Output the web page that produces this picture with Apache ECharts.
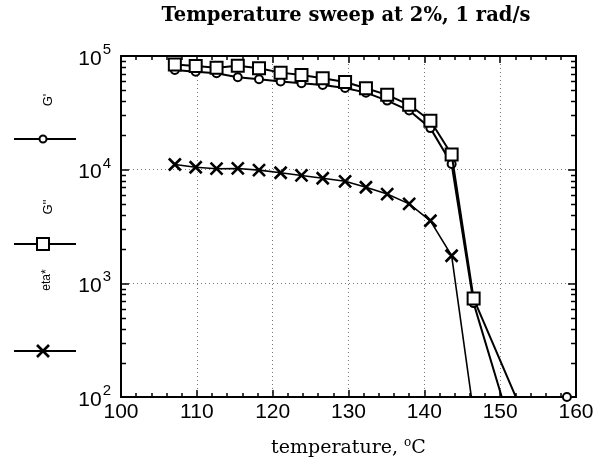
<!DOCTYPE html>
<html><head><meta charset="utf-8">
<script src="https://cdn.jsdelivr.net/npm/echarts@6/dist/echarts.min.js"></script>
<style>html,body{margin:0;padding:0;background:#fff}#c{width:601px;height:464px}</style>
</head><body><div id="c"></div>
<script>
// ---- data ----
const titleText = 'Temperature sweep at 2%, 1 rad/s';
const xTitle = 'temperature, ';
const seriesNames = ["G'", "G''", "eta*"];
const tempsGp  = [107.1,109.85,112.6,115.4,118.2,121.05,123.8,126.6,129.55,132.3,135.1,138.0,140.8,143.6,146.5,152.0,158.8];
const valuesGp = [75400,72800,70400,65000,62500,59600,57700,55700,52400,47600,40500,33100,23200,11200,670,40,100];
const tempsGpp  = [107.1,109.85,112.6,115.4,118.2,121.05,123.8,126.6,129.55,132.3,135.1,138.0,140.8,143.6,146.5,155.0];
const valuesGpp = [84000,81500,79000,82000,78000,71400,68100,63700,59100,52100,45500,37200,26900,13600,735,35];
const tempsEta  = [107.1,109.85,112.6,115.4,118.2,121.05,123.8,126.6,129.55,132.3,135.1,138.0,140.8,143.6,146.5];
const valuesEta = [11100,10500,10200,10250,9900,9400,8900,8400,7900,7000,6100,5000,3550,1750,72];
const xTicks = [100,110,120,130,140,150,160];
const yMinor = [200,300,400,500,600,700,800,900,2000,3000,4000,5000,6000,7000,8000,9000,20000,30000,40000,50000,60000,70000,80000,90000];

const zip = (a,b)=>a.map((v,i)=>[v,b[i]]);
const W = 601, H = 464;
const chart = echarts.init(document.getElementById('c'), null, {renderer:'canvas', width:W, height:H});
const G = {left:121, right:25, top:56, bottom:67};
const axisLineStyle = {color:'#000', width:2};
const xBase = {type:'value', min:100, max:160, interval:10};
const yBase = {type:'log', min:100, max:100000, logBase:10};
const sans = 'Liberation Sans';
const serif = 'DejaVu Serif';

// legend (drawn at the left, labels rotated)
const legend = [
  {type:'text', x:48, y:100, rotation:Math.PI/2, style:{text:seriesNames[0], font:'13px "Liberation Sans"', fill:'#000', align:'center', verticalAlign:'middle'}},
  {type:'line', shape:{x1:14,y1:139,x2:76,y2:139}, style:{stroke:'#000', lineWidth:2}},
  {type:'circle', shape:{cx:43, cy:139, r:3.5}, style:{fill:'#fff', stroke:'#000', lineWidth:2}},
  {type:'text', x:48, y:207, rotation:Math.PI/2, style:{text:seriesNames[1], font:'13px "Liberation Sans"', fill:'#000', align:'center', verticalAlign:'middle'}},
  {type:'line', shape:{x1:14,y1:244,x2:76,y2:244}, style:{stroke:'#000', lineWidth:2}},
  {type:'rect', shape:{x:37, y:238, width:12, height:12}, style:{fill:'#fff', stroke:'#000', lineWidth:2}},
  {type:'text', x:47, y:280, rotation:Math.PI/2, style:{text:seriesNames[2], font:'12px "Liberation Sans"', fill:'#000', align:'center', verticalAlign:'middle'}},
  {type:'line', shape:{x1:14,y1:351,x2:76,y2:351}, style:{stroke:'#000', lineWidth:2}},
  {type:'line', shape:{x1:37,y1:345,x2:49,y2:357}, style:{stroke:'#000', lineWidth:2.6}},
  {type:'line', shape:{x1:49,y1:345,x2:37,y2:357}, style:{stroke:'#000', lineWidth:2.6}}
];
// log-axis minor ticks (2..9 x 10^k) along the left and right frame (axis decoration)
const xL = G.left, xR = W - G.right, yT = G.top, yB = H - G.bottom;
const decades = Math.log10(yBase.max) - Math.log10(yBase.min);
const ticks = [];
yMinor.forEach((v,i)=>{
  const y = Math.round(yB - (Math.log10(v) - Math.log10(yBase.min)) / decades * (yB - yT)) + 0.5;
  ticks.push({type:'line', id:'tl'+i, z:100, shape:{x1:xL, y1:y, x2:xL+5, y2:y}, style:{stroke:'#000', lineWidth:1.5}});
  ticks.push({type:'line', id:'tr'+i, z:100, shape:{x1:xR-5, y1:y, x2:xR, y2:y}, style:{stroke:'#000', lineWidth:1.5}});
});

const option = {
  animation:false,
  backgroundColor:'#fff',
  title:{text:titleText, left:341, textAlign:'center', top:1,
    textStyle:{fontFamily:serif, fontWeight:'bold', fontSize:19.5, color:'#000'}},
  grid:G,
  xAxis:[
    Object.assign({}, xBase, {position:'bottom',
      axisLine:{show:true, lineStyle:axisLineStyle, onZero:false},
      axisTick:{show:true, inside:true, length:7, lineStyle:{color:'#000', width:1.5}},
      minorTick:{show:true, splitNumber:5, length:4, lineStyle:{color:'#000', width:1.5}},
      splitLine:{show:true, lineStyle:{color:'#777', type:[1,3], width:1}},
      axisLabel:{fontFamily:sans, fontSize:21, color:'#000', margin:5,
        formatter:v=>xTicks.includes(v)?String(v):''},
      name:'{a|' + xTitle + '}{s|o}{a|C}', nameLocation:'middle', nameGap:40,
      nameTextStyle:{rich:{a:{fontFamily:serif, fontSize:19, color:'#000'},
        s:{fontFamily:serif, fontSize:12, color:'#000', verticalAlign:'top', padding:[0,0,10,0]}}}
    }),
    Object.assign({}, xBase, {position:'top',
      axisLine:{show:true, lineStyle:axisLineStyle, onZero:false},
      axisTick:{show:true, inside:true, length:7, lineStyle:{color:'#000', width:1.5}},
      minorTick:{show:true, splitNumber:5, length:4, lineStyle:{color:'#000', width:1.5}},
      splitLine:{show:false}, axisLabel:{show:false}})
  ],
  yAxis:[
    Object.assign({}, yBase, {position:'left',
      axisLine:{show:true, lineStyle:axisLineStyle, onZero:false},
      axisTick:{show:true, inside:true, length:8, lineStyle:{color:'#000', width:1.5}},
      splitLine:{show:true, lineStyle:{color:'#777', type:[1,3], width:1}},
      axisLabel:{margin:10, formatter:v=>'{b|10}{s|' + Math.round(Math.log10(v)) + '}',
        rich:{b:{fontFamily:sans, fontSize:21, color:'#000', verticalAlign:'top', padding:[6,0,0,0]},
              s:{fontFamily:sans, fontSize:15, color:'#000', verticalAlign:'top', padding:[0,0,0,1]}}}
    }),
    Object.assign({}, yBase, {position:'right',
      axisLine:{show:true, lineStyle:axisLineStyle, onZero:false},
      axisTick:{show:true, inside:true, length:8, lineStyle:{color:'#000', width:1.5}},
      splitLine:{show:false}, axisLabel:{show:false}})
  ],
  series:[
    {name:seriesNames[0], type:'line', data:zip(tempsGp, valuesGp), clip:true,
      symbol:'emptyCircle', symbolSize:8, showAllSymbol:true,
      lineStyle:{color:'#000', width:2}, itemStyle:{color:'#000', borderColor:'#000', borderWidth:2}, z:3},
    {name:seriesNames[1], type:'line', data:zip(tempsGpp, valuesGpp), clip:true,
      symbol:'emptyRect', symbolSize:12, showAllSymbol:true,
      lineStyle:{color:'#000', width:2}, itemStyle:{color:'#000', borderColor:'#000', borderWidth:2}, z:4},
    {name:seriesNames[2], type:'line', data:zip(tempsEta, valuesEta), clip:true,
      symbol:'path://M0,0L10,10M10,0L0,10', symbolSize:12, showAllSymbol:true,
      lineStyle:{color:'#000', width:1.6}, itemStyle:{color:'#000', borderColor:'#000', borderWidth:2.6}, z:5}
  ],
  graphic:{elements:legend.concat(ticks)}
};
chart.setOption(option);
</script></body></html>
